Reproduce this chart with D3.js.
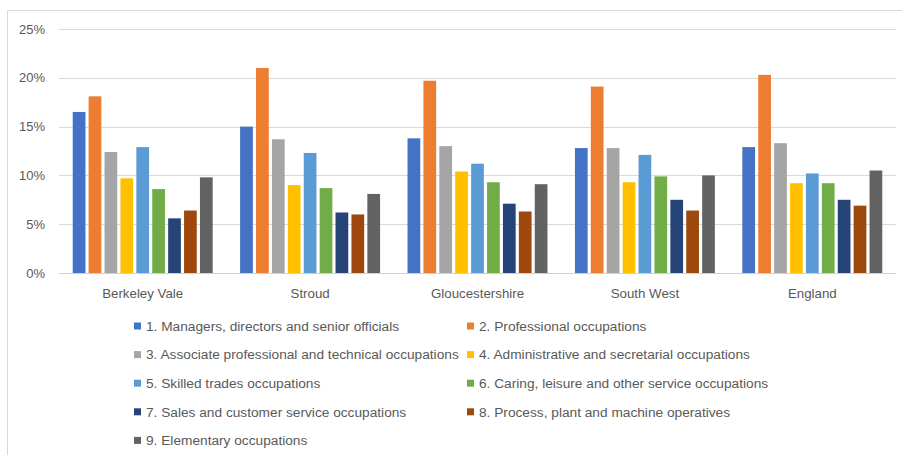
<!DOCTYPE html>
<html>
<head>
<meta charset="utf-8">
<script src="https://cdn.jsdelivr.net/npm/d3@7"></script>
<style>
  html, body { margin: 0; padding: 0; background: #fff; }
  svg { display: block; font-family: "Liberation Sans", Arial, sans-serif; }
</style>
</head>
<body>
<svg id="chart" width="902" height="455"></svg>
<script>
// Occupation shares (%) by area
const categories = ["Berkeley Vale", "Stroud", "Gloucestershire", "South West", "England"];
const seriesNames = [
  "1. Managers, directors and senior officials",
  "2. Professional occupations",
  "3. Associate professional and technical occupations",
  "4. Administrative and secretarial occupations",
  "5. Skilled trades occupations",
  "6. Caring, leisure and other service occupations",
  "7. Sales and customer service occupations",
  "8. Process, plant and machine operatives",
  "9. Elementary occupations"
];
const managers      = [16.5, 15.0, 13.8, 12.8, 12.9];
const professional  = [18.1, 21.0, 19.7, 19.1, 20.3];
const associate     = [12.4, 13.7, 13.0, 12.8, 13.3];
const administrative= [9.7, 9.0, 10.4, 9.3, 9.2];
const skilledTrades = [12.9, 12.3, 11.2, 12.1, 10.2];
const caring        = [8.6, 8.7, 9.3, 9.9, 9.2];
const sales         = [5.6, 6.2, 7.1, 7.5, 7.5];
const processPlant  = [6.4, 6.0, 6.3, 6.4, 6.9];
const elementary    = [9.8, 8.1, 9.1, 10.0, 10.5];
const seriesValues = [managers, professional, associate, administrative, skilledTrades,
                      caring, sales, processPlant, elementary];
const colors = ["#4472C4", "#ED7D31", "#A5A5A5", "#FFC000", "#5B9BD5",
                "#70AD47", "#264478", "#9E480E", "#636363"];
const yTicks = [0, 5, 10, 15, 20, 25];

const svg = d3.select("#chart");
const textColor = "#595959";
const plot = { left: 59, right: 896, top: 29, bottom: 273 };

// Outer chart frame (top and left edges)
svg.append("path")
  .attr("d", "M7.5,455 V10.5 H902")
  .attr("fill", "none")
  .attr("stroke", "#d9d9d9")
  .attr("stroke-width", 1);

const y = d3.scaleLinear().domain([0, 25]).range([plot.bottom, plot.top]);
const x0 = d3.scaleBand().domain(categories).range([plot.left, plot.right])
  .paddingInner(0.164).paddingOuter(0.082);
const x1 = d3.scaleBand().domain(d3.range(seriesNames.length))
  .range([0, x0.bandwidth()]).paddingInner(0.2).paddingOuter(0);

// Gridlines
svg.append("g").selectAll("line")
  .data(yTicks.filter(t => t > 0))
  .join("line")
  .attr("x1", plot.left).attr("x2", plot.right)
  .attr("y1", d => Math.round(y(d)) + 0.5).attr("y2", d => Math.round(y(d)) + 0.5)
  .attr("stroke", "#d9d9d9").attr("stroke-width", 1);

// Y axis labels
const yAxis = d3.axisLeft(y).tickValues(yTicks).tickFormat(d => d + "%").tickSize(0).tickPadding(0);
const yg = svg.append("g").attr("transform", `translate(45,0)`).call(yAxis);
yg.select(".domain").remove();
yg.selectAll("text").attr("fill", textColor).attr("font-size", 13)
  .attr("font-family", "'Liberation Sans', Arial, sans-serif");

// Bars
const groups = svg.append("g").selectAll("g")
  .data(categories)
  .join("g")
  .attr("transform", d => `translate(${x0(d)},0)`);
groups.selectAll("rect")
  .data((c, ci) => seriesValues.map((vals, si) => ({ si, v: vals[ci] })))
  .join("rect")
  .attr("x", d => x1(d.si))
  .attr("width", x1.bandwidth())
  .attr("y", d => y(d.v))
  .attr("height", d => y(0) - y(d.v))
  .attr("fill", d => colors[d.si]);

// X axis baseline and category labels
const xAxis = d3.axisBottom(x0).tickSize(0).tickPadding(0);
const xg = svg.append("g").attr("transform", `translate(0,${plot.bottom})`).call(xAxis);
xg.select(".domain").attr("d", `M${plot.left},0.5H${plot.right}`)
  .attr("stroke", "#d0d0d0");
xg.selectAll("text").attr("fill", textColor).attr("font-size", 13.3)
  .attr("font-family", "'Liberation Sans', Arial, sans-serif")
  .attr("dy", null).attr("y", 25);

// Legend: two columns
const legend = svg.append("g");
const colX = [134, 467];
const rowY0 = 326, rowStep = 28.6;
const items = legend.selectAll("g")
  .data(seriesNames)
  .join("g")
  .attr("transform", (d, i) => `translate(${colX[i % 2]},${rowY0 + Math.floor(i / 2) * rowStep})`);
items.append("rect")
  .attr("x", 0).attr("y", -3.5).attr("width", 7).attr("height", 7)
  .attr("fill", (d, i) => colors[i]);
items.append("text")
  .attr("x", 12).attr("y", 0).attr("dy", "0.35em")
  .attr("fill", textColor).attr("font-size", 13.7)
  .text(d => d);
</script>
</body>
</html>
